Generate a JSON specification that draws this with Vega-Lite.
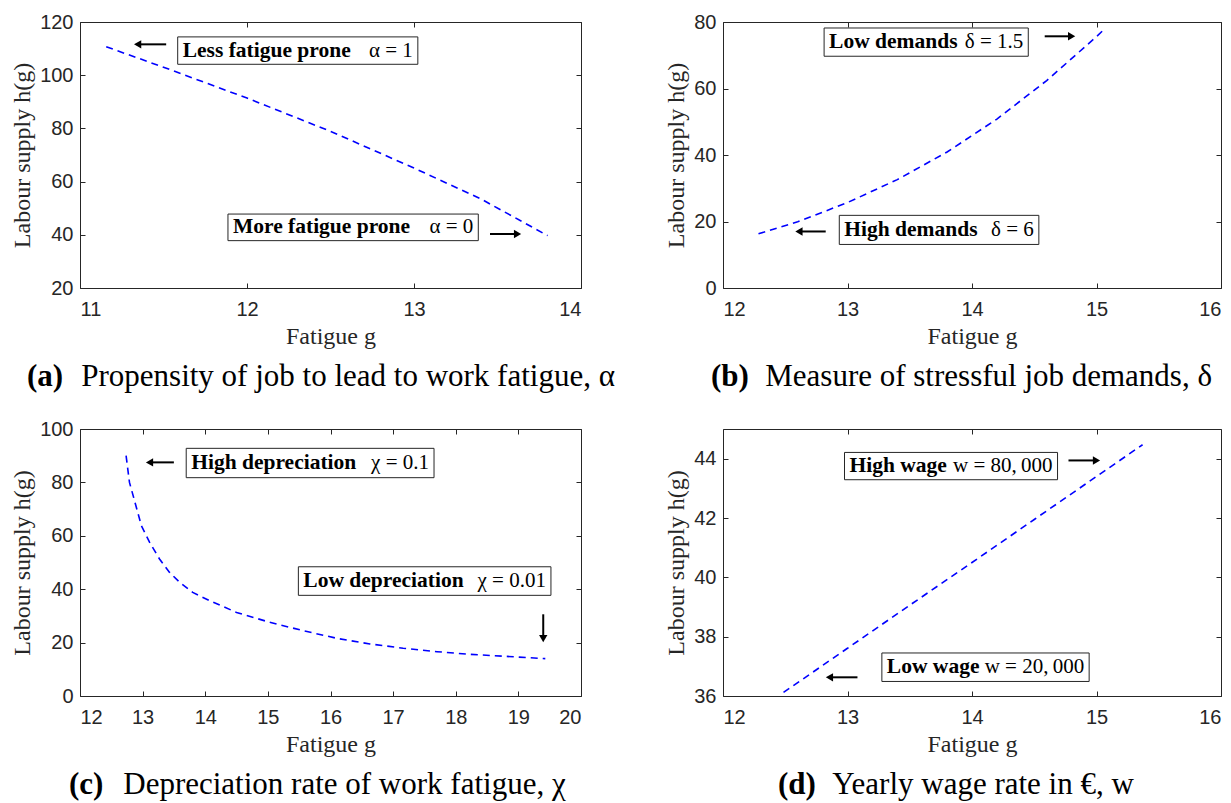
{
  "$schema": "https://vega.github.io/schema/vega-lite/v6.json",
  "padding": {"left": 10, "top": 11, "right": 5, "bottom": 5},
  "autosize": {"type": "pad"},
  "columns": 2,
  "bounds": "flush",
  "spacing": {"row": 141, "column": 142},
  "datasets": {
    "a_line": [{"g": 11.157, "h": 110.7}, {"g": 11.5, "h": 103.0}, {"g": 12.0, "h": 91.4}, {"g": 12.5, "h": 78.9}, {"g": 13.0, "h": 65.1}, {"g": 13.4, "h": 53.5}, {"g": 13.8, "h": 39.7}],
    "a_box": [
      {"x1": 11.585, "x2": 13.023, "y1": 114.4, "y2": 104.1, "ty": 109.25, "label": "Less fatigue prone", "math": "α = 1"},
      {"x1": 11.886, "x2": 13.385, "y1": 47.8, "y2": 37.8, "ty": 42.8, "label": "More fatigue prone", "math": "α = 0"}
    ],
    "a_arrow": [
      {"x": 11.516, "x2": 11.345, "y": 111.6, "y2": 111.6, "dir": "left"},
      {"x": 13.455, "x2": 13.62, "y": 40.3, "y2": 40.3, "dir": "right"}
    ],
    "b_line": [{"g": 12.285, "h": 16.3}, {"g": 12.6, "h": 19.9}, {"g": 13.0, "h": 25.7}, {"g": 13.4, "h": 32.6}, {"g": 13.8, "h": 40.9}, {"g": 14.2, "h": 50.8}, {"g": 14.6, "h": 62.4}, {"g": 15.0, "h": 75.6}, {"g": 15.07, "h": 78.1}],
    "b_box": [
      {"x1": 12.812, "x2": 14.452, "y1": 78.2, "y2": 69.7, "ty": 73.95, "label": "Low demands", "math": "δ = 1.5"},
      {"x1": 12.934, "x2": 14.537, "y1": 21.85, "y2": 13.1, "ty": 17.5, "label": "High demands", "math": "δ = 6"}
    ],
    "b_arrow": [
      {"x": 14.584, "x2": 14.8, "y": 75.7, "y2": 75.7, "dir": "right"},
      {"x": 12.825, "x2": 12.61, "y": 17.0, "y2": 17.0, "dir": "left"}
    ],
    "c_line": [{"g": 12.736, "h": 90.0}, {"g": 12.79, "h": 80.0}, {"g": 12.87, "h": 73.2}, {"g": 12.98, "h": 63.8}, {"g": 13.11, "h": 57.6}, {"g": 13.27, "h": 51.3}, {"g": 13.43, "h": 46.3}, {"g": 13.59, "h": 42.6}, {"g": 13.8, "h": 38.8}, {"g": 14.07, "h": 35.7}, {"g": 14.5, "h": 31.3}, {"g": 15.03, "h": 27.6}, {"g": 15.56, "h": 24.5}, {"g": 16.1, "h": 21.6}, {"g": 16.63, "h": 19.5}, {"g": 17.16, "h": 17.9}, {"g": 17.7, "h": 16.6}, {"g": 18.23, "h": 15.6}, {"g": 18.76, "h": 14.9}, {"g": 19.43, "h": 14.0}],
    "c_box": [
      {"x1": 13.696, "x2": 17.653, "y1": 92.76, "y2": 81.77, "ty": 87.27, "label": "High depreciation", "math": "χ = 0.1"},
      {"x1": 15.487, "x2": 19.52, "y1": 48.4, "y2": 37.7, "ty": 43.05, "label": "Low depreciation", "math": "χ = 0.01"}
    ],
    "c_arrow": [
      {"x": 13.499, "x2": 13.11, "y": 87.5, "y2": 87.5, "dir": "left"},
      {"x": 19.397, "x2": 19.397, "y": 30.6, "y2": 21.5, "dir": "down"}
    ],
    "d_line": [{"g": 12.486, "h": 36.12}, {"g": 13.0, "h": 37.61}, {"g": 13.5, "h": 39.06}, {"g": 14.0, "h": 40.5}, {"g": 14.5, "h": 41.95}, {"g": 15.0, "h": 43.4}, {"g": 15.37, "h": 44.47}],
    "d_box": [
      {"x1": 12.976, "x2": 14.687, "y1": 44.21, "y2": 43.29, "ty": 43.75, "label": "High wage", "math": "w = 80,\u2009000"},
      {"x1": 13.276, "x2": 14.941, "y1": 37.45, "y2": 36.49, "ty": 36.97, "label": "Low wage", "math": "w = 20,\u2009000"}
    ],
    "d_arrow": [
      {"x": 14.775, "x2": 15.0, "y": 43.94, "y2": 43.94, "dir": "right"},
      {"x": 13.08, "x2": 12.855, "y": 36.63, "y2": 36.63, "dir": "left"}
    ]
  },
  "concat": [
    {
      "width": 501, "height": 266,
      "title": {"text": "(a)", "subtitle": "\u200b\u00a0\u00a0\u00a0\u00a0\u00a0\u00a0\u00a0Propensity of job to lead to work fatigue, α", "dx": -53},
      "resolve": {"axis": {"x": "independent", "y": "independent"}},
      "layer": [
        {"data": {"name": "a_line"}, "mark": {"type": "line", "color": "#0000FF", "strokeDash": [7, 5], "strokeWidth": 1.6},
         "encoding": {
           "x": {"field": "g", "type": "quantitative", "scale": {"domain": [11, 14], "nice": false, "zero": false}, "axis": {"title": "Fatigue g", "values": [11, 12, 13, 14]}},
           "y": {"field": "h", "type": "quantitative", "scale": {"domain": [20, 120], "nice": false, "zero": false}, "axis": {"title": "Labour supply h(g)", "values": [20, 40, 60, 80, 100, 120]}}}},
        {"data": {"name": "a_box"}, "mark": {"type": "rect", "fill": "white", "stroke": "#262626", "strokeWidth": 1},
         "encoding": {
           "x": {"field": "x1", "type": "quantitative", "scale": {"domain": [11, 14], "nice": false, "zero": false}, "axis": {"orient": "top", "labels": false, "title": null, "values": [11, 12, 13, 14]}},
           "x2": {"field": "x2"},
           "y": {"field": "y1", "type": "quantitative", "scale": {"domain": [20, 120], "nice": false, "zero": false}, "axis": {"orient": "right", "labels": false, "title": null, "values": [20, 40, 60, 80, 100, 120]}},
           "y2": {"field": "y2"}}},
        {"data": {"name": "a_box"}, "mark": {"type": "text", "align": "left", "baseline": "middle", "dx": 5, "font": "Liberation Serif", "fontSize": 21.5, "fontWeight": "bold", "color": "black"},
         "encoding": {
           "x": {"field": "x1", "type": "quantitative", "scale": {"domain": [11, 14], "nice": false, "zero": false}, "axis": null},
           "y": {"field": "ty", "type": "quantitative", "scale": {"domain": [20, 120], "nice": false, "zero": false}, "axis": null},
           "text": {"field": "label"}}},
        {"data": {"name": "a_box"}, "mark": {"type": "text", "align": "right", "baseline": "middle", "dx": -5, "font": "Liberation Serif", "fontSize": 21, "color": "black"},
         "encoding": {
           "x": {"field": "x2", "type": "quantitative", "scale": {"domain": [11, 14], "nice": false, "zero": false}, "axis": null},
           "y": {"field": "ty", "type": "quantitative", "scale": {"domain": [20, 120], "nice": false, "zero": false}, "axis": null},
           "text": {"field": "math"}}},
        {"data": {"name": "a_arrow"}, "mark": {"type": "rule", "strokeWidth": 2, "color": "black"},
         "encoding": {
           "x": {"field": "x", "type": "quantitative", "scale": {"domain": [11, 14], "nice": false, "zero": false}, "axis": null}, "x2": {"field": "x2"},
           "y": {"field": "y", "type": "quantitative", "scale": {"domain": [20, 120], "nice": false, "zero": false}, "axis": null}, "y2": {"field": "y2"}}},
        {"data": {"name": "a_arrow"}, "mark": {"type": "point", "filled": true, "color": "black", "opacity": 1, "size": 70},
         "encoding": {
           "x": {"field": "x2", "type": "quantitative", "scale": {"domain": [11, 14], "nice": false, "zero": false}, "axis": null},
           "y": {"field": "y2", "type": "quantitative", "scale": {"domain": [20, 120], "nice": false, "zero": false}, "axis": null},
           "shape": {"field": "dir", "type": "nominal", "scale": {"domain": ["left", "right", "down"], "range": ["triangle-left", "triangle-right", "triangle-down"]}, "legend": null}}}
      ]
    },
    {
      "width": 498, "height": 266,
      "title": {"text": "(b)", "subtitle": "\u200b\u00a0\u00a0\u00a0\u00a0\u00a0\u00a0\u00a0Measure of stressful job demands, δ", "dx": -12},
      "resolve": {"axis": {"x": "independent", "y": "independent"}},
      "layer": [
        {"data": {"name": "b_line"}, "mark": {"type": "line", "color": "#0000FF", "strokeDash": [7, 5], "strokeWidth": 1.6},
         "encoding": {
           "x": {"field": "g", "type": "quantitative", "scale": {"domain": [12, 16], "nice": false, "zero": false}, "axis": {"title": "Fatigue g", "values": [12, 13, 14, 15, 16]}},
           "y": {"field": "h", "type": "quantitative", "scale": {"domain": [0, 80], "nice": false, "zero": false}, "axis": {"title": "Labour supply h(g)", "values": [0, 20, 40, 60, 80]}}}},
        {"data": {"name": "b_box"}, "mark": {"type": "rect", "fill": "white", "stroke": "#262626", "strokeWidth": 1},
         "encoding": {
           "x": {"field": "x1", "type": "quantitative", "scale": {"domain": [12, 16], "nice": false, "zero": false}, "axis": {"orient": "top", "labels": false, "title": null, "values": [12, 13, 14, 15, 16]}},
           "x2": {"field": "x2"},
           "y": {"field": "y1", "type": "quantitative", "scale": {"domain": [0, 80], "nice": false, "zero": false}, "axis": {"orient": "right", "labels": false, "title": null, "values": [0, 20, 40, 60, 80]}},
           "y2": {"field": "y2"}}},
        {"data": {"name": "b_box"}, "mark": {"type": "text", "align": "left", "baseline": "middle", "dx": 5, "font": "Liberation Serif", "fontSize": 21.5, "fontWeight": "bold", "color": "black"},
         "encoding": {
           "x": {"field": "x1", "type": "quantitative", "scale": {"domain": [12, 16], "nice": false, "zero": false}, "axis": null},
           "y": {"field": "ty", "type": "quantitative", "scale": {"domain": [0, 80], "nice": false, "zero": false}, "axis": null},
           "text": {"field": "label"}}},
        {"data": {"name": "b_box"}, "mark": {"type": "text", "align": "right", "baseline": "middle", "dx": -5, "font": "Liberation Serif", "fontSize": 21, "color": "black"},
         "encoding": {
           "x": {"field": "x2", "type": "quantitative", "scale": {"domain": [12, 16], "nice": false, "zero": false}, "axis": null},
           "y": {"field": "ty", "type": "quantitative", "scale": {"domain": [0, 80], "nice": false, "zero": false}, "axis": null},
           "text": {"field": "math"}}},
        {"data": {"name": "b_arrow"}, "mark": {"type": "rule", "strokeWidth": 2, "color": "black"},
         "encoding": {
           "x": {"field": "x", "type": "quantitative", "scale": {"domain": [12, 16], "nice": false, "zero": false}, "axis": null}, "x2": {"field": "x2"},
           "y": {"field": "y", "type": "quantitative", "scale": {"domain": [0, 80], "nice": false, "zero": false}, "axis": null}, "y2": {"field": "y2"}}},
        {"data": {"name": "b_arrow"}, "mark": {"type": "point", "filled": true, "color": "black", "opacity": 1, "size": 70},
         "encoding": {
           "x": {"field": "x2", "type": "quantitative", "scale": {"domain": [12, 16], "nice": false, "zero": false}, "axis": null},
           "y": {"field": "y2", "type": "quantitative", "scale": {"domain": [0, 80], "nice": false, "zero": false}, "axis": null},
           "shape": {"field": "dir", "type": "nominal", "scale": {"domain": ["left", "right", "down"], "range": ["triangle-left", "triangle-right", "triangle-down"]}, "legend": null}}}
      ]
    },
    {
      "width": 501, "height": 267,
      "title": {"text": "(c)", "subtitle": "\u200b\u00a0\u00a0\u00a0\u00a0\u00a0\u00a0\u00a0Depreciation rate of work fatigue, χ", "dx": -11},
      "resolve": {"axis": {"x": "independent", "y": "independent"}},
      "layer": [
        {"data": {"name": "c_line"}, "mark": {"type": "line", "color": "#0000FF", "strokeDash": [7, 5], "strokeWidth": 1.6},
         "encoding": {
           "x": {"field": "g", "type": "quantitative", "scale": {"domain": [12, 20], "nice": false, "zero": false}, "axis": {"title": "Fatigue g", "values": [12, 13, 14, 15, 16, 17, 18, 19, 20]}},
           "y": {"field": "h", "type": "quantitative", "scale": {"domain": [0, 100], "nice": false, "zero": false}, "axis": {"title": "Labour supply h(g)", "values": [0, 20, 40, 60, 80, 100]}}}},
        {"data": {"name": "c_box"}, "mark": {"type": "rect", "fill": "white", "stroke": "#262626", "strokeWidth": 1},
         "encoding": {
           "x": {"field": "x1", "type": "quantitative", "scale": {"domain": [12, 20], "nice": false, "zero": false}, "axis": {"orient": "top", "labels": false, "title": null, "values": [12, 13, 14, 15, 16, 17, 18, 19, 20]}},
           "x2": {"field": "x2"},
           "y": {"field": "y1", "type": "quantitative", "scale": {"domain": [0, 100], "nice": false, "zero": false}, "axis": {"orient": "right", "labels": false, "title": null, "values": [0, 20, 40, 60, 80, 100]}},
           "y2": {"field": "y2"}}},
        {"data": {"name": "c_box"}, "mark": {"type": "text", "align": "left", "baseline": "middle", "dx": 5, "font": "Liberation Serif", "fontSize": 21.5, "fontWeight": "bold", "color": "black"},
         "encoding": {
           "x": {"field": "x1", "type": "quantitative", "scale": {"domain": [12, 20], "nice": false, "zero": false}, "axis": null},
           "y": {"field": "ty", "type": "quantitative", "scale": {"domain": [0, 100], "nice": false, "zero": false}, "axis": null},
           "text": {"field": "label"}}},
        {"data": {"name": "c_box"}, "mark": {"type": "text", "align": "right", "baseline": "middle", "dx": -5, "font": "Liberation Serif", "fontSize": 21, "color": "black"},
         "encoding": {
           "x": {"field": "x2", "type": "quantitative", "scale": {"domain": [12, 20], "nice": false, "zero": false}, "axis": null},
           "y": {"field": "ty", "type": "quantitative", "scale": {"domain": [0, 100], "nice": false, "zero": false}, "axis": null},
           "text": {"field": "math"}}},
        {"data": {"name": "c_arrow"}, "mark": {"type": "rule", "strokeWidth": 2, "color": "black"},
         "encoding": {
           "x": {"field": "x", "type": "quantitative", "scale": {"domain": [12, 20], "nice": false, "zero": false}, "axis": null}, "x2": {"field": "x2"},
           "y": {"field": "y", "type": "quantitative", "scale": {"domain": [0, 100], "nice": false, "zero": false}, "axis": null}, "y2": {"field": "y2"}}},
        {"data": {"name": "c_arrow"}, "mark": {"type": "point", "filled": true, "color": "black", "opacity": 1, "size": 70},
         "encoding": {
           "x": {"field": "x2", "type": "quantitative", "scale": {"domain": [12, 20], "nice": false, "zero": false}, "axis": null},
           "y": {"field": "y2", "type": "quantitative", "scale": {"domain": [0, 100], "nice": false, "zero": false}, "axis": null},
           "shape": {"field": "dir", "type": "nominal", "scale": {"domain": ["left", "right", "down"], "range": ["triangle-left", "triangle-right", "triangle-down"]}, "legend": null}}}
      ]
    },
    {
      "width": 498, "height": 267,
      "title": {"text": "(d)", "subtitle": "\u200b\u00a0\u00a0\u00a0\u00a0\u00a0\u00a0\u00a0Yearly wage rate in €, w", "dx": 55},
      "resolve": {"axis": {"x": "independent", "y": "independent"}},
      "layer": [
        {"data": {"name": "d_line"}, "mark": {"type": "line", "color": "#0000FF", "strokeDash": [7, 5], "strokeWidth": 1.6},
         "encoding": {
           "x": {"field": "g", "type": "quantitative", "scale": {"domain": [12, 16], "nice": false, "zero": false}, "axis": {"title": "Fatigue g", "values": [12, 13, 14, 15, 16]}},
           "y": {"field": "h", "type": "quantitative", "scale": {"domain": [36, 45], "nice": false, "zero": false}, "axis": {"title": "Labour supply h(g)", "values": [36, 38, 40, 42, 44]}}}},
        {"data": {"name": "d_box"}, "mark": {"type": "rect", "fill": "white", "stroke": "#262626", "strokeWidth": 1},
         "encoding": {
           "x": {"field": "x1", "type": "quantitative", "scale": {"domain": [12, 16], "nice": false, "zero": false}, "axis": {"orient": "top", "labels": false, "title": null, "values": [12, 13, 14, 15, 16]}},
           "x2": {"field": "x2"},
           "y": {"field": "y1", "type": "quantitative", "scale": {"domain": [36, 45], "nice": false, "zero": false}, "axis": {"orient": "right", "labels": false, "title": null, "values": [36, 38, 40, 42, 44]}},
           "y2": {"field": "y2"}}},
        {"data": {"name": "d_box"}, "mark": {"type": "text", "align": "left", "baseline": "middle", "dx": 5, "font": "Liberation Serif", "fontSize": 21.5, "fontWeight": "bold", "color": "black"},
         "encoding": {
           "x": {"field": "x1", "type": "quantitative", "scale": {"domain": [12, 16], "nice": false, "zero": false}, "axis": null},
           "y": {"field": "ty", "type": "quantitative", "scale": {"domain": [36, 45], "nice": false, "zero": false}, "axis": null},
           "text": {"field": "label"}}},
        {"data": {"name": "d_box"}, "mark": {"type": "text", "align": "right", "baseline": "middle", "dx": -5, "font": "Liberation Serif", "fontSize": 21, "color": "black"},
         "encoding": {
           "x": {"field": "x2", "type": "quantitative", "scale": {"domain": [12, 16], "nice": false, "zero": false}, "axis": null},
           "y": {"field": "ty", "type": "quantitative", "scale": {"domain": [36, 45], "nice": false, "zero": false}, "axis": null},
           "text": {"field": "math"}}},
        {"data": {"name": "d_arrow"}, "mark": {"type": "rule", "strokeWidth": 2, "color": "black"},
         "encoding": {
           "x": {"field": "x", "type": "quantitative", "scale": {"domain": [12, 16], "nice": false, "zero": false}, "axis": null}, "x2": {"field": "x2"},
           "y": {"field": "y", "type": "quantitative", "scale": {"domain": [36, 45], "nice": false, "zero": false}, "axis": null}, "y2": {"field": "y2"}}},
        {"data": {"name": "d_arrow"}, "mark": {"type": "point", "filled": true, "color": "black", "opacity": 1, "size": 70},
         "encoding": {
           "x": {"field": "x2", "type": "quantitative", "scale": {"domain": [12, 16], "nice": false, "zero": false}, "axis": null},
           "y": {"field": "y2", "type": "quantitative", "scale": {"domain": [36, 45], "nice": false, "zero": false}, "axis": null},
           "shape": {"field": "dir", "type": "nominal", "scale": {"domain": ["left", "right", "down"], "range": ["triangle-left", "triangle-right", "triangle-down"]}, "legend": null}}}
      ]
    }
  ],
  "config": {
    "view": {"stroke": "#262626", "strokeWidth": 1},
    "axis": {
      "grid": false, "domain": false,
      "tickSize": -5, "tickColor": "#262626", "tickWidth": 1,
      "labelFont": "Liberation Sans", "labelFontSize": 20, "labelColor": "#262626",
      "titleFont": "Liberation Serif", "titleFontSize": 24, "titleFontWeight": "normal", "titleColor": "#262626"
    },
    "axisX": {"labelPadding": 16, "titlePadding": 5},
    "axisY": {"labelPadding": 12, "titlePadding": 5},
    "title": {"font": "Liberation Serif", "fontSize": 31, "fontWeight": "bold", "color": "black", "orient": "bottom", "anchor": "start", "frame": "group", "offset": 14,
              "subtitleFont": "Liberation Serif", "subtitleFontSize": 31, "subtitleFontWeight": "normal", "subtitleColor": "black", "subtitlePadding": -31}
  }
}
